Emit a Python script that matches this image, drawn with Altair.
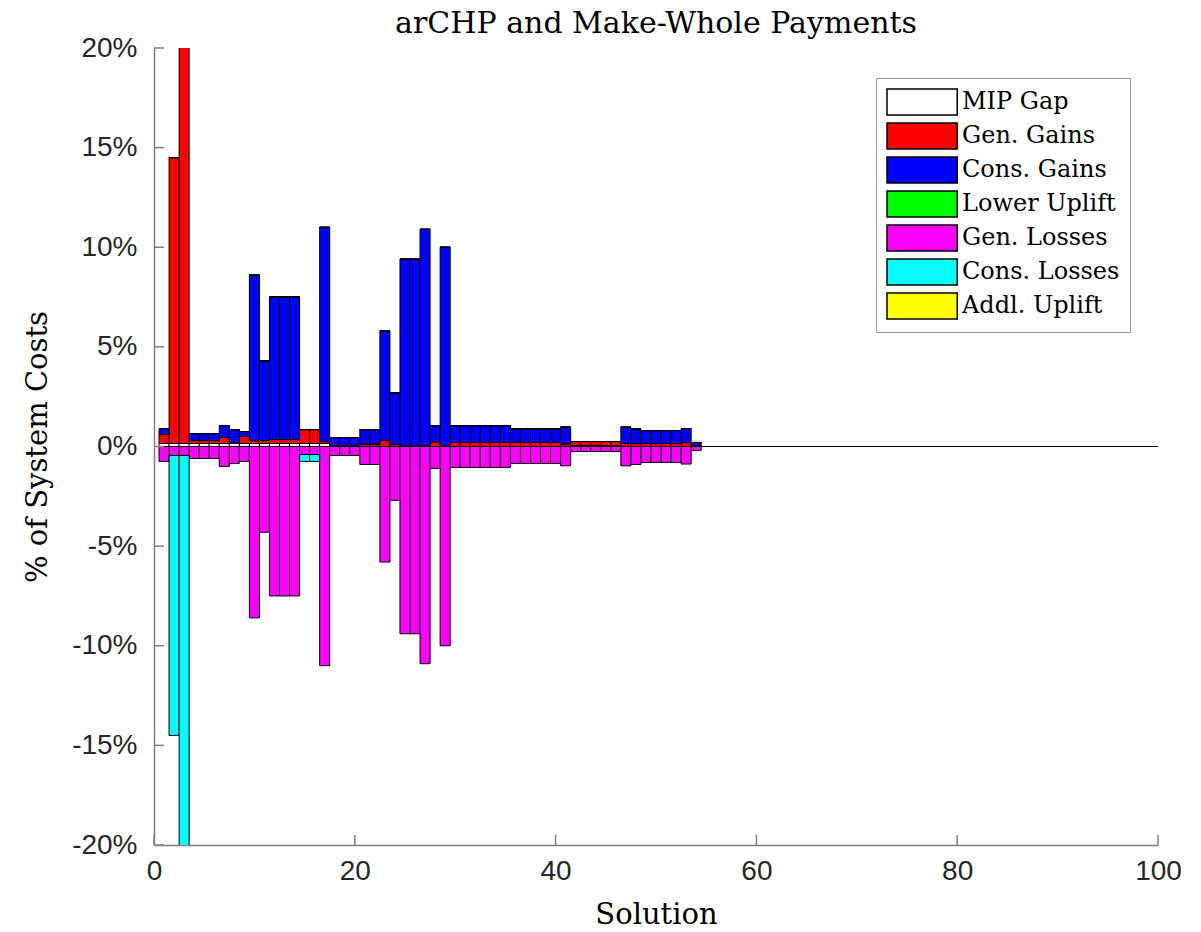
import altair as alt
import pandas as pd

# Solution index on the horizontal axis (1..100)
solutions = list(range(1, 101))

series = ["MIP Gap", "Gen. Gains", "Cons. Gains", "Lower Uplift",
          "Gen. Losses", "Cons. Losses", "Addl. Uplift"]
colors = ["#ffffff", "#ff0000", "#0000ff", "#00ff00",
          "#ff00ff", "#00ffff", "#ffff00"]

# Values in % of system costs, solutions 1..54; later solutions are all zero
unused = [0.0] * 46

mip_gap = [0.15, 0.15, 0.15, 0.15, 0.15, 0.15, 0.15, 0.15, 0.15, 0.15,
           0.15, 0.15, 0.15, 0.15, 0.15, 0.15, 0.15, 0.0, 0.0, 0.0,
           0.0, 0.0, 0.0, 0.0, 0.0, 0.0, 0.0, 0.0, 0.0, 0.0,
           0.0, 0.0, 0.0, 0.0, 0.0, 0.0, 0.0, 0.0, 0.0, 0.0,
           0.0, 0.05, 0.05, 0.05, 0.05, 0.05, 0.0, 0.0, 0.0, 0.0,
           0.0, 0.0, 0.0, 0.0] + unused

gen_gains = [0.45, 14.35, 25.0, 0.15, 0.15, 0.15, 0.3, 0.05, 0.35, 0.15,
             0.15, 0.2, 0.2, 0.2, 0.7, 0.7, 0.1, 0.05, 0.05, 0.05,
             0.12, 0.12, 0.3, 0.1, 0.05, 0.05, 0.05, 0.23, 0.05, 0.2,
             0.2, 0.2, 0.2, 0.2, 0.2, 0.2, 0.2, 0.2, 0.2, 0.2,
             0.12, 0.2, 0.2, 0.2, 0.2, 0.2, 0.15, 0.15, 0.15, 0.15,
             0.15, 0.15, 0.2, 0.05] + unused

cons_gains = [0.3, 0.0, 0.0, 0.35, 0.35, 0.35, 0.6, 0.65, 0.25, 8.3,
              4.0, 7.15, 7.15, 7.15, 0.0, 0.0, 10.75, 0.4, 0.4, 0.4,
              0.73, 0.73, 5.5, 2.6, 9.35, 9.35, 10.85, 0.82, 9.95, 0.85,
              0.85, 0.85, 0.85, 0.85, 0.85, 0.68, 0.68, 0.68, 0.68, 0.68,
              0.85, 0.0, 0.0, 0.0, 0.0, 0.0, 0.82, 0.73, 0.65, 0.65,
              0.65, 0.65, 0.7, 0.15] + unused

lower_uplift = [0.0] * 54 + unused

gen_losses = [-0.75, -0.45, -0.45, -0.6, -0.6, -0.6, -1.0, -0.85, -0.75, -8.6,
              -4.3, -7.5, -7.5, -7.5, -0.4, -0.4, -11.0, -0.45, -0.45, -0.45,
              -0.9, -0.9, -5.8, -2.7, -9.4, -9.4, -10.9, -1.1, -10.0, -1.05,
              -1.05, -1.05, -1.05, -1.05, -1.05, -0.85, -0.85, -0.85, -0.85, -0.85,
              -0.97, -0.25, -0.25, -0.25, -0.25, -0.25, -0.97, -0.9, -0.8, -0.8,
              -0.8, -0.8, -0.88, -0.2] + unused

cons_losses = [0.0, -14.05, -25.0, 0.0, 0.0, 0.0, 0.0, 0.0, 0.0, 0.0,
               0.0, 0.0, 0.0, 0.0, -0.35, -0.35, 0.0, 0.0, 0.0, 0.0] + [0.0] * 34 + unused

addl_uplift = [0.0] * 54 + unused

x_ticks = [0, 20, 40, 60, 80, 100]
y_ticks = [-20, -15, -10, -5, 0, 5, 10, 15, 20]

columns = [mip_gap, gen_gains, cons_gains, lower_uplift,
           gen_losses, cons_losses, addl_uplift]
rows = []
for k, (name, vals) in enumerate(zip(series, columns)):
    for s, v in zip(solutions, vals):
        rows.append({"solution": s, "series": name, "order": k, "value": v})
df = pd.DataFrame(rows)

W, H = 1004, 797
AXIS_GREY = "#808080"
SERIF = "DejaVu Serif"

x_scale = alt.Scale(domain=[0, 100], nice=False, zero=False)
y_scale = alt.Scale(domain=[-20, 20], nice=False)

x_axis = alt.Axis(values=x_ticks, title="Solution",
                  titleX=W / 2, titleY=69, labelFlush=False,
                  titleBaseline="middle", labelPadding=12)
y_axis = alt.Axis(values=y_ticks, title="% of System Costs",
                  labelExpr="datum.value + '%'", labelFlush=False,
                  titleX=-117, titleY=H / 2, titleAngle=-90,
                  titleAlign="center", titleBaseline="middle",
                  labelPadding=17)

bars = alt.Chart(df).transform_stack(
    stack="value",
    groupby=["solution"],
    sort=[alt.SortField("order", order="ascending")],
    as_=["y0", "y1"],
).transform_calculate(
    x0="datum.solution - 0.5",
    x1="datum.solution + 0.5",
).mark_rect(stroke="black", strokeWidth=1, clip=True).encode(
    x=alt.X("x0:Q", scale=x_scale, axis=x_axis),
    x2="x1:Q",
    y=alt.Y("y0:Q", scale=y_scale, axis=y_axis),
    y2="y1:Q",
    color=alt.Color(
        "series:N",
        scale=alt.Scale(domain=series, range=colors),
        legend=alt.Legend(
            title=None, orient="none", legendX=722, legendY=30,
            symbolType="M-1,-1H4.4V1H-1Z", symbolSize=676,
            symbolStrokeColor="black", symbolStrokeWidth=1.5,
            symbolOpacity=1, labelOffset=48,
            labelFont=SERIF, labelFontSize=24, labelColor="black",
            rowPadding=2, padding=10,
            strokeColor="#999999", fillColor="white",
        ),
    ),
)

# MATLAB-style inward tick marks
yt = alt.Chart(pd.DataFrame({"y0": y_ticks})).mark_rule(
    color=AXIS_GREY, strokeWidth=1.5).encode(
    y=alt.Y("y0:Q", scale=y_scale, axis=y_axis),
    x=alt.value(0), x2=alt.value(10))
xt = alt.Chart(pd.DataFrame({"x0": x_ticks})).mark_rule(
    color=AXIS_GREY, strokeWidth=1.5).encode(
    x=alt.X("x0:Q", scale=x_scale, axis=x_axis),
    y=alt.value(H), y2=alt.value(H - 10))

chart = alt.layer(bars, yt, xt).properties(
    width=W, height=H,
    title=alt.TitleParams("arCHP and Make-Whole Payments", font=SERIF,
                          fontSize=30, fontWeight="normal", color="black",
                          anchor="middle", frame="group", offset=0, dy=5),
    autosize=alt.AutoSizeParams(type="none"),
    padding={"left": 154, "top": 48, "right": 43, "bottom": 87},
).configure_view(stroke=None).configure_axis(
    grid=False, ticks=False,
    domainColor=AXIS_GREY, domainWidth=1.5,
    labelFont="Liberation Sans", labelFontSize=28, labelColor="#262626",
    titleFont=SERIF, titleFontSize=29, titleFontWeight="normal",
    titleColor="black",
)

chart.save("out.html", embed_options={"renderer": "svg", "actions": False})
